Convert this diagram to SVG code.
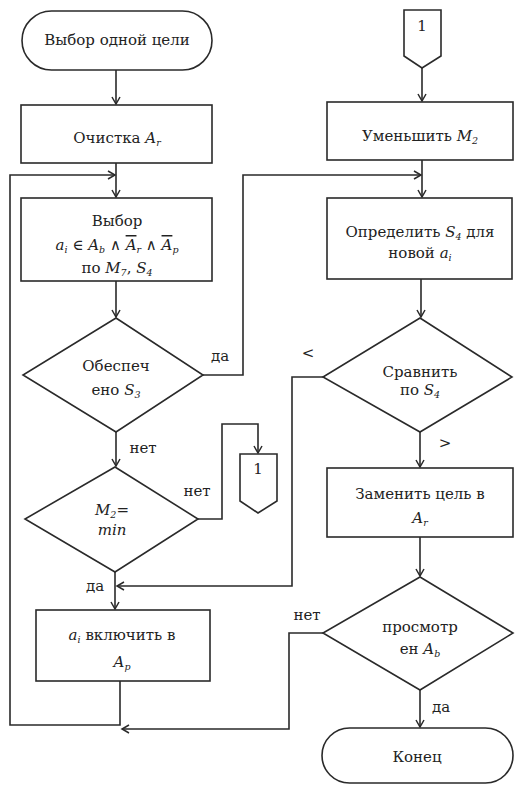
<svg xmlns="http://www.w3.org/2000/svg" width="515" height="785" viewBox="0 0 515 785" font-family="'DejaVu Serif', serif">
<defs>
<marker id="arr" markerWidth="10" markerHeight="10" refX="8" refY="5" orient="auto" markerUnits="userSpaceOnUse">
<path d="M1,1 L8,5 L1,9" fill="none" stroke="#2a2a2a" stroke-width="1.5"/>
</marker>
</defs>
<style>
.s{fill:#fff;stroke:#2a2a2a;stroke-width:1.6}
.c{fill:none;stroke:#2a2a2a;stroke-width:1.6}
text{font-family:'DejaVu Serif',serif;font-size:15px;fill:#222;text-anchor:middle}
.i{font-style:italic}
.sub{font-size:9.5px;font-style:italic}
.ov{text-decoration:overline}
</style>
<rect width="515" height="785" fill="#fff"/>
<g id="connectors">
<path class="c" d="M116,70 V104" marker-end="url(#arr)"/>
<path class="c" d="M116,163 V197" marker-end="url(#arr)"/>
<path class="c" d="M120,681 V725 H10 V175 H115" marker-end="url(#arr)"/>
<path class="c" d="M116,281 V317" marker-end="url(#arr)"/>
<path class="c" d="M202,375 H243 V175 H421" marker-end="url(#arr)"/>
<path class="c" d="M116,432 V466" marker-end="url(#arr)"/>
<path class="c" d="M198,519 H222 V424 H258 V453" marker-end="url(#arr)"/>
<path class="c" d="M115,572 V609" marker-end="url(#arr)"/>
<path class="c" d="M323,377 H292 V586 H117" marker-end="url(#arr)"/>
<path class="c" d="M323,633 H289 V729 H122" marker-end="url(#arr)"/>
<path class="c" d="M422,68 V101" marker-end="url(#arr)"/>
<path class="c" d="M422,160 V197" marker-end="url(#arr)"/>
<path class="c" d="M421,279 V317" marker-end="url(#arr)"/>
<path class="c" d="M420,432 V467" marker-end="url(#arr)"/>
<path class="c" d="M420,537 V576" marker-end="url(#arr)"/>
<path class="c" d="M420,690 V727" marker-end="url(#arr)"/>
<text x="220" y="361">да</text>
<text x="143" y="453">нет</text>
<text x="197" y="496">нет</text>
<text x="95" y="591">да</text>
<text x="308" y="358">&lt;</text>
<text x="445" y="448">&gt;</text>
<text x="307" y="620">нет</text>
<text x="441" y="712">да</text>
</g>
<g id="start">
<rect class="s" x="22" y="11" width="190" height="59" rx="29.5"/>
<text x="117" y="45">Выбор одной цели</text>
</g>
<g id="clear">
<rect class="s" x="21" y="105" width="191" height="58"/>
<text x="117" y="143">Очистка <tspan class="i">A</tspan><tspan class="sub" dy="3">r</tspan></text>
</g>
<g id="select">
<rect class="s" x="21" y="198" width="191" height="83"/>
<text x="117" y="226">Выбор</text>
<text x="117" y="250"><tspan class="i">a</tspan><tspan class="sub" dy="3">i</tspan><tspan dy="-3"> ∈ </tspan><tspan class="i">A</tspan><tspan class="sub" dy="3">b</tspan><tspan dy="-3"> ∧ </tspan><tspan class="i ov">A</tspan><tspan class="sub" dy="3">r</tspan><tspan dy="-3"> ∧ </tspan><tspan class="i ov">A</tspan><tspan class="sub" dy="3">p</tspan></text>
<text x="117" y="273">по <tspan class="i">M</tspan><tspan class="sub" dy="3">7</tspan><tspan dy="-3">, </tspan><tspan class="i">S</tspan><tspan class="sub" dy="3">4</tspan></text>
</g>
<g id="dec1">
<polygon class="s" points="116,318 203,375 116,432 23,375"/>
<text x="116" y="371">Обеспеч</text>
<text x="116" y="395">ено <tspan class="i">S</tspan><tspan class="sub" dy="3">3</tspan></text>
</g>
<g id="dec2">
<polygon class="s" points="115,467 198,519 115,572 25,519"/>
<text x="112" y="515" class="i">M<tspan class="sub" dy="3">2</tspan><tspan dy="-3" font-style="normal">=</tspan></text>
<text x="112" y="535" class="i">min</text>
</g>
<g id="conn1a">
<polygon class="s" points="240,454 277,454 277,501 258,513 240,501"/>
<text x="258" y="474">1</text>
</g>
<g id="include">
<rect class="s" x="36" y="610" width="174" height="71"/>
<text x="122" y="640"><tspan class="i">a</tspan><tspan class="sub" dy="3">i</tspan><tspan dy="-3"> включить в</tspan></text>
<text x="122" y="667"><tspan class="i">A</tspan><tspan class="sub" dy="3">p</tspan></text>
</g>
<g id="conn1b">
<polygon class="s" points="404,10 441,10 441,56 422,68 404,56"/>
<text x="422" y="31">1</text>
</g>
<g id="decrease">
<rect class="s" x="327" y="102" width="186" height="58"/>
<text x="420" y="141">Уменьшить <tspan class="i">M</tspan><tspan class="sub" dy="3">2</tspan></text>
</g>
<g id="define">
<rect class="s" x="327" y="198" width="185" height="81"/>
<text x="420" y="237">Определить <tspan class="i">S</tspan><tspan class="sub" dy="3">4</tspan><tspan dy="-3"> для</tspan></text>
<text x="420" y="258">новой <tspan class="i">a</tspan><tspan class="sub" dy="3">i</tspan></text>
</g>
<g id="dec3">
<polygon class="s" points="420,318 512,377 420,432 323,377"/>
<text x="420" y="377">Сравнить</text>
<text x="420" y="395">по <tspan class="i">S</tspan><tspan class="sub" dy="3">4</tspan></text>
</g>
<g id="replace">
<rect class="s" x="327" y="468" width="186" height="69"/>
<text x="420" y="499">Заменить цель в</text>
<text x="420" y="523"><tspan class="i">A</tspan><tspan class="sub" dy="3">r</tspan></text>
</g>
<g id="dec4">
<polygon class="s" points="420,577 513,633 420,690 323,633"/>
<text x="420" y="632">просмотр</text>
<text x="420" y="654">ен <tspan class="i">A</tspan><tspan class="sub" dy="3">b</tspan></text>
</g>
<g id="end">
<rect class="s" x="322" y="728" width="191" height="55" rx="27.5"/>
<text x="417" y="762">Конец</text>
</g>
</svg>
